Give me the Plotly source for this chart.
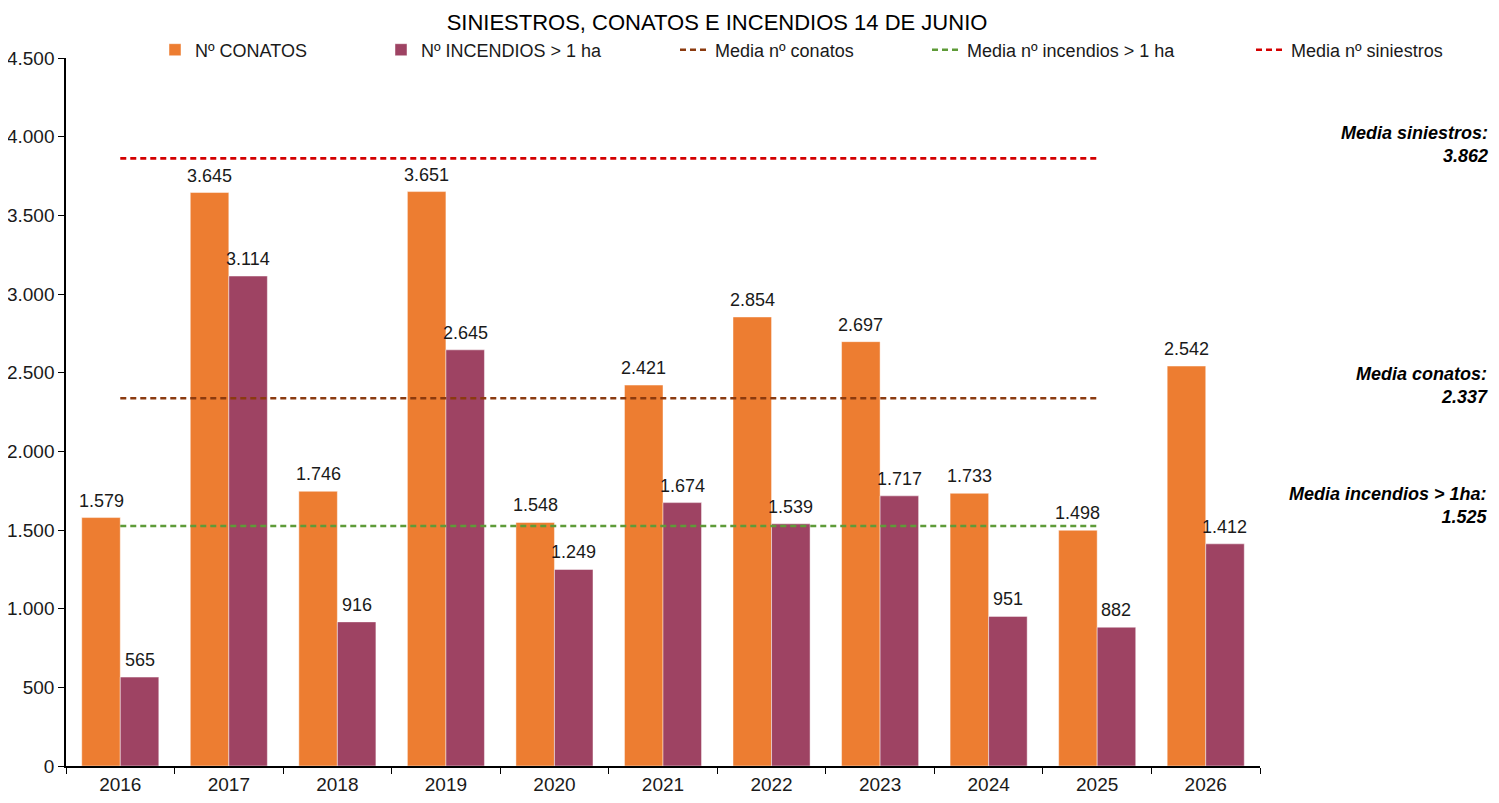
import plotly.graph_objects as go

years = ["2016", "2017", "2018", "2019", "2020", "2021", "2022", "2023", "2024", "2025", "2026"]
conatos = [1579, 3645, 1746, 3651, 1548, 2421, 2854, 2697, 1733, 1498, 2542]
incendios = [565, 3114, 916, 2645, 1249, 1674, 1539, 1717, 951, 882, 1412]

media_conatos = 2337
media_incendios = 1525
media_siniestros = 3862
mean_span = ["2016", "2025"]

FONT = "Liberation Sans, Arial, sans-serif"
OFF = 8  # page body margin
W, H = 1483, 787
L, R, T, B = 58, 231, 50, 29
PW = W - L - R
PH = H - T - B
BARGAP = 0.29

def px_x(p):  # screen px -> paper
    return (p - OFF - L) / PW

def px_y(p):
    return (H - B - (p - OFF)) / PH

fig = go.Figure()

fig.add_trace(go.Bar(
    x=years, y=conatos, name="Nº CONATOS",
    marker=dict(color="#ED7D31", line=dict(color="rgba(255,255,255,0.45)", width=1)),
    legend="legend", hoverinfo="x+y",
))
fig.add_trace(go.Bar(
    x=years, y=incendios, name="Nº INCENDIOS > 1 ha",
    marker=dict(color="#9E4363", line=dict(color="rgba(255,255,255,0.45)", width=1)),
    legend="legend2", hoverinfo="x+y",
))

means = [
    ("Media nº conatos", media_conatos, "#8B3A0F", "legend3"),
    ("Media nº incendios > 1 ha", media_incendios, "#5E9B38", "legend4"),
    ("Media nº siniestros", media_siniestros, "#D40000", "legend5"),
]
for name, val, col, lg in means:
    fig.add_trace(go.Scatter(
        x=mean_span, y=[val, val], mode="lines", name=name,
        line=dict(color=col, width=2.6, dash="6px,4px"),
        legend=lg, hoverinfo="skip",
    ))

def fmt(v):
    return f"{v:,}".replace(",", ".")

# value labels above each bar (placed through the data axes, category index)
cat_w = PW / len(years)
half = cat_w * (1 - BARGAP) / 4
for series, shift in ((conatos, -half), (incendios, half)):
    for i, v in enumerate(series):
        fig.add_annotation(
            xref="x", yref="y", x=i, y=v, xshift=shift, yshift=5,
            xanchor="center", yanchor="bottom", showarrow=False,
            text=fmt(v), font=dict(size=18, color="#1a1a1a", family=FONT),
        )

ann = [
    ("Media siniestros:", media_siniestros, 144),
    ("Media conatos:", media_conatos, 385),
    ("Media incendios > 1ha:", media_incendios, 505),
]
for label, val, ypx in ann:
    fig.add_annotation(
        xref="paper", yref="paper", x=px_x(1490), y=px_y(ypx),
        xanchor="right", yanchor="middle", align="right", showarrow=False,
        text=f"<b><i>{label}</i></b><br><b><i>{fmt(val)}</i></b>",
        font=dict(size=18, color="#000000", family=FONT),
    )

leg_common = dict(orientation="h", yanchor="middle", xanchor="left",
                  bgcolor="rgba(0,0,0,0)", font=dict(size=18, color="#1a1a1a", family=FONT),
                  traceorder="normal")
text_starts = [195, 421, 715, 967, 1291]
legends = {}
for i, ts in enumerate(text_starts):
    key = "legend" if i == 0 else f"legend{i+1}"
    legends[key] = dict(leg_common, x=px_x(ts - 40), y=px_y(50))

fig.update_layout(
    width=W, height=H,
    margin=dict(l=L, r=R, t=T, b=B, autoexpand=False),
    paper_bgcolor="white", plot_bgcolor="white",
    separators=",.",
    showlegend=True,
    barmode="group", bargap=BARGAP, bargroupgap=0,
    font=dict(family=FONT, size=18, color="#1a1a1a"),
    title=dict(text="SINIESTROS, CONATOS E INCENDIOS 14 DE JUNIO",
               xref="container", yref="container", x=(717 - OFF) / W, y=1 - (22 - OFF) / H,
               xanchor="center", yanchor="middle", pad=dict(t=0, b=0),
               font=dict(size=22, color="#000000", family=FONT)),
    xaxis=dict(type="category", range=[-0.5, 10.5], tickson="boundaries",
               ticks="outside", ticklen=6, tickcolor="#000", showline=True,
               linecolor="#000", linewidth=1.5, showgrid=False,
               tickfont=dict(size=19, color="#1a1a1a")),
    yaxis=dict(range=[0, 4500], dtick=500, tickformat=",d", ticks="outside",
               ticklen=6, tickcolor="#000", showline=True, linecolor="#000",
               linewidth=1.5, showgrid=False, zeroline=False,
               tickfont=dict(size=19, color="#1a1a1a")),
    **legends,
)

fig.write_html("out.html")
